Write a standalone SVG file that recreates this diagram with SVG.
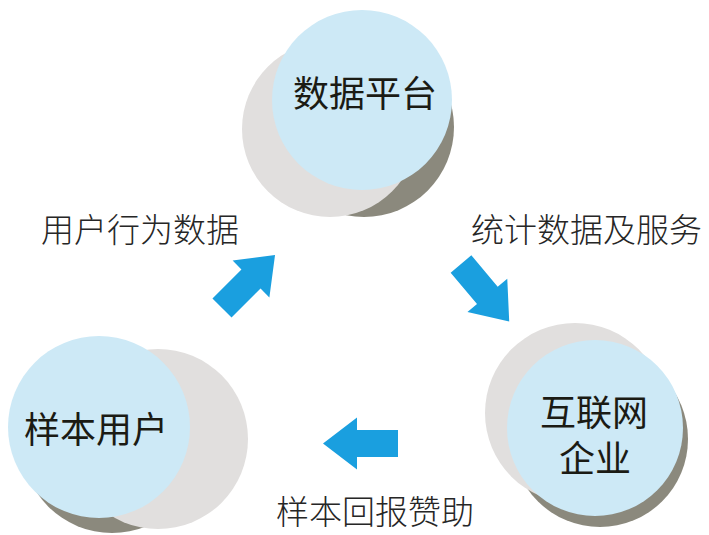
<svg xmlns="http://www.w3.org/2000/svg" width="709" height="535" viewBox="0 0 709 535">
<style>
.dark{fill:#8b897d}
.light{fill:#e1dfde}
.main{fill:#cde9f6}
.nt{font-family:"Noto Sans CJK SC","Noto Sans",sans-serif;font-size:36px;fill:#1b1b14;text-anchor:middle}
.lt{font-family:"Noto Sans CJK SC","Noto Sans",sans-serif;font-size:33px;fill:#262626;font-weight:300}
.arrow{fill:#1a9fdf}
</style>
<defs>
<polygon id="arr" points="0,-13.5 41,-13.5 41,-26 75,0 41,26 41,13.5 0,13.5"/>
</defs>
<rect width="709" height="535" fill="#fff"/>
<g id="node-platform">
<circle class="dark" cx="364" cy="127" r="90"/>
<circle class="light" cx="330" cy="129" r="88"/>
<circle class="main" cx="362" cy="100" r="90"/>
<text class="nt" x="365" y="107">数据平台</text>
</g>
<g id="node-users">
<circle class="dark" cx="112" cy="443" r="90"/>
<circle class="light" cx="158" cy="439" r="90"/>
<circle class="main" cx="99" cy="427" r="91"/>
<text class="nt" x="96" y="443">样本用户</text>
</g>
<g id="node-company">
<circle class="dark" cx="600" cy="439" r="88"/>
<circle class="light" cx="575" cy="413" r="90"/>
<circle class="main" cx="595" cy="428" r="88"/>
<text class="nt"><tspan x="594" y="426">互联网</tspan><tspan x="595" y="472">企业</tspan></text>
</g>
<g id="connectors">
<use href="#arr" class="arrow" transform="translate(222,308) rotate(-45)"/>
<use href="#arr" class="arrow" transform="translate(461,264) rotate(50)"/>
<use href="#arr" class="arrow" transform="translate(398,443.5) rotate(180)"/>
<text class="lt" x="41" y="242">用户行为数据</text>
<text class="lt" x="471" y="242">统计数据及服务</text>
<text class="lt" x="276" y="524">样本回报赞助</text>
</g>
</svg>
